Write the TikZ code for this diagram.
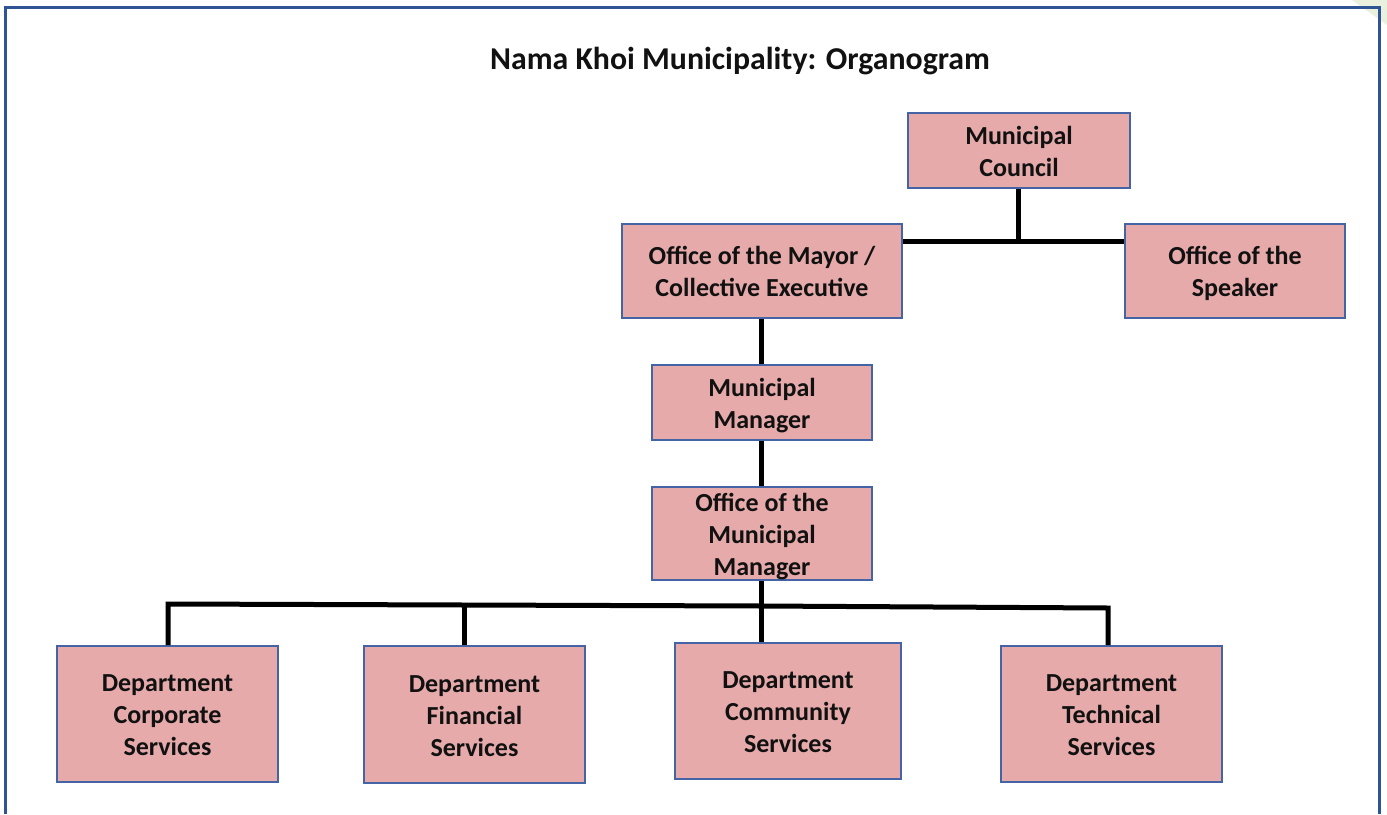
\documentclass[tikz,border=0pt]{standalone}
\usepackage{fontspec}
\setmainfont{Carlito}
\definecolor{boxfill}{RGB}{230,170,170}
\definecolor{boxline}{RGB}{68,100,165}
\definecolor{frameblue}{RGB}{47,84,150}
\definecolor{inkblack}{RGB}{17,17,17}
\definecolor{cornergreen}{RGB}{233,240,222}
% struts that fix the first line height and last line depth of box texts
\newcommand{\orgtop}{\rule{0pt}{24.7pt}}
\newcommand{\orgbot}{\rule[-5.2pt]{0pt}{5.2pt}}
\tikzset{
  orgbox/.style={draw=boxline, line width=2pt, fill=boxfill, align=center,
    inner sep=0pt, text=inkblack,
    font=\fontsize{26}{32}\selectfont\bfseries},
  link/.style={line width=5pt, draw=black}
}
\begin{document}
\begin{tikzpicture}[x=1pt, y=-1pt]
\useasboundingbox (0,0) rectangle (1387,814);
\fill[white] (0,0) rectangle (1387,814);
% faint corner decoration
\fill[cornergreen] (1352,0) -- (1387,0) -- (1387,25) -- cycle;
% page frame
\draw[frameblue, line width=3pt] (5,814) -- (5,7) -- (1379,7) -- (1379,814);

\node[font=\fontsize{31.8}{36}\selectfont\bfseries, text=inkblack, anchor=base, inner sep=0pt] (title) at (740,69) {Nama Khoi Municipality: Organogram};

\node[orgbox, minimum width=222pt, minimum height=75pt] (council) at (1019,150.5) {\orgtop Municipal\\Council\orgbot};
\node[orgbox, minimum width=280pt, minimum height=94pt] (mayor) at (762,271) {\orgtop Office of the Mayor /\\Collective Executive\orgbot};
\node[orgbox, minimum width=220pt, minimum height=94pt] (speaker) at (1235,271) {\orgtop Office of the\\Speaker\orgbot};
\node[orgbox, minimum width=220pt, minimum height=75pt] (mm) at (762,402.5) {\orgtop Municipal\\Manager\orgbot};
\node[orgbox, minimum width=220pt, minimum height=93pt] (omm) at (762,533.5) {\orgtop Office of the\\Municipal\\Manager\orgbot};
\node[orgbox, minimum width=221pt, minimum height=136pt] (corp) at (167.5,714) {\orgtop Department\\Corporate\\Services\orgbot};
\node[orgbox, minimum width=221pt, minimum height=137pt] (fin) at (474.5,714.5) {\orgtop Department\\Financial\\Services\orgbot};
\node[orgbox, minimum width=226pt, minimum height=136pt] (comm) at (788,711) {\orgtop Department\\Community\\Services\orgbot};
\node[orgbox, minimum width=221pt, minimum height=136pt] (tech) at (1111.5,714) {\orgtop Department\\Technical\\Services\orgbot};

% council branch
\coordinate (cj) at (1018,241);
\draw[link] (council.south -| cj) -- (cj);
\draw[link] (mayor.east |- cj) -- (speaker.west |- cj);

% executive line
\draw[link] (mayor.south -| 761,0) -- (mm.north -| 761,0);
\draw[link] (mm.south -| 761,0) -- (omm.north -| 761,0);

% department bus
\coordinate (b1) at (168,604);
\coordinate (b2) at (464,605);
\coordinate (b3) at (761,606);
\coordinate (b4) at (1108,608);
\draw[link, line join=miter] (b1 |- corp.north) -- (b1) -- (b2) -- (b3) -- (b4) -- (b4 |- tech.north);
\draw[link] (b2) -- (b2 |- fin.north);
\draw[link] (omm.south -| b3) -- (b3 |- comm.north);
\end{tikzpicture}
\end{document}
